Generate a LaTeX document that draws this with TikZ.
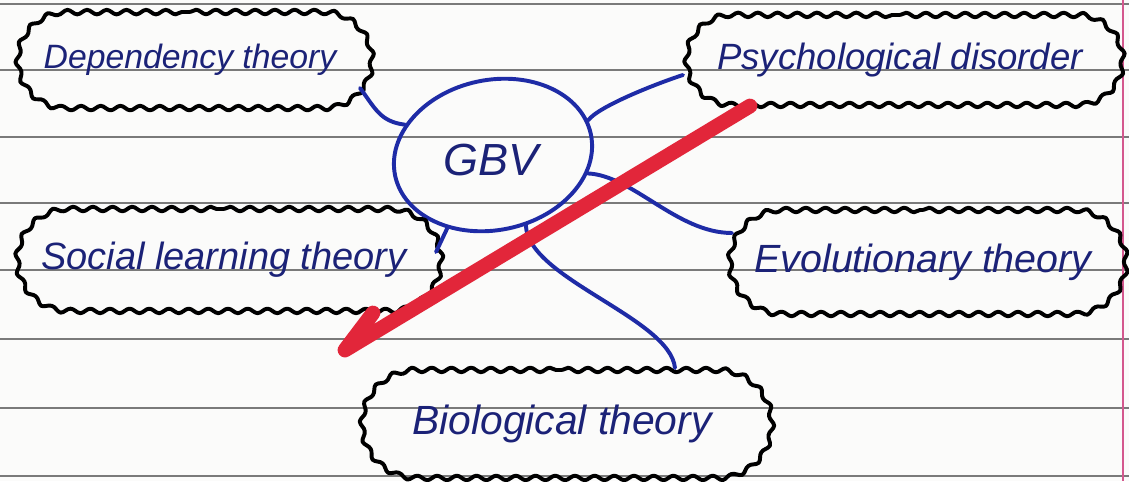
\documentclass[tikz,border=0pt]{standalone}
\usepackage{fontspec}
\setmainfont{Liberation Sans}
\usetikzlibrary{shapes.geometric, shapes.misc, decorations.pathmorphing, calc}
\definecolor{paper}{HTML}{FBFBFA}
\definecolor{ruling}{HTML}{7A7A7A}
\definecolor{margin}{HTML}{D4588E}
\definecolor{inkblue}{HTML}{1E2BA6}
\definecolor{inknavy}{HTML}{1B2277}
\definecolor{marker}{HTML}{E2263A}
\newcommand{\handat}[1]{\fontsize{#1}{#1}\selectfont\itshape}
\tikzset{
  cloudbox/.style={rounded rectangle, draw=black, line width=2.8pt, line join=round, text=inknavy, inner sep=0pt,
    decorate, decoration={snake, segment length=14pt, amplitude=1.6pt}},
  link/.style={draw=inkblue, line width=2.8pt, line cap=round},
}

\begin{document}
\begin{tikzpicture}[x=0.025cm, y=-0.025cm]
\useasboundingbox (0,0) rectangle (1129,481);

%--- notebook page
\fill[paper] (0,0) rectangle (1129,481);
\foreach \y in {4,70,137,203,270,339,408,476} {
  \draw[ruling, line width=1.1pt] (0,\y) -- (1129,\y);
}
\draw[margin, line width=0.9pt] (1123,0) -- (1123,481);

%--- centre
\node[ellipse, draw=inkblue, line width=2.8pt, minimum width=5cm, minimum height=3.75cm, rotate=12] (gbv) at (493,155) {};
\node[text=inknavy, font=\handat{32}] (gbvtext) at (491,160) {GBV};

%--- theories
\node[cloudbox, minimum width=8.85cm, minimum height=2.4cm, font=\handat{24}] (dep) at (190,60) {Dependency theory};
\node[cloudbox, minimum width=10.9cm, minimum height=2.25cm, font=\handat{26}] (psy) at (900,60) {Psychological disorder};
\node[cloudbox, minimum width=10.6cm, minimum height=2.55cm, font=\handat{27}] (soc) at (224,260) {Social learning theory};
\node[cloudbox, minimum width=9.9cm, minimum height=2.6cm, font=\handat{28}] (evo) at (923,262) {Evolutionary theory};
\node[cloudbox, minimum width=10.25cm, minimum height=2.7cm, font=\handat{29}] (bio) at (562,424) {Biological theory};

%--- links
\draw[link] (gbv.149) .. controls +(-25,-3) and +(15,20) .. ($(dep.east)+(-9,28)$);
\draw[link] (gbv.8) .. controls +(10,-14) and +(-25,8) .. ($(psy.west)+(3,15)$);
\draw[link] (gbv.-23) .. controls +(45,2) and +(-55,0) .. ($(evo.west)+(9,-29)$);
\draw[link] (gbv.-134) -- ($(soc.east)+(-2,-8)$);
\draw[link] (gbv.-77) .. controls +(2,53) and +(-5,-50) .. ($(bio.north)+(113,0)$);

%--- red strike
\coordinate (strikeA) at (750,106);
\coordinate (strikeB) at (345,350);
\coordinate (strikeC) at (373,313);
\draw[marker, line width=10.5pt, line cap=round, line join=round] (strikeA) -- (strikeB) -- (strikeC);

\end{tikzpicture}
\end{document}
